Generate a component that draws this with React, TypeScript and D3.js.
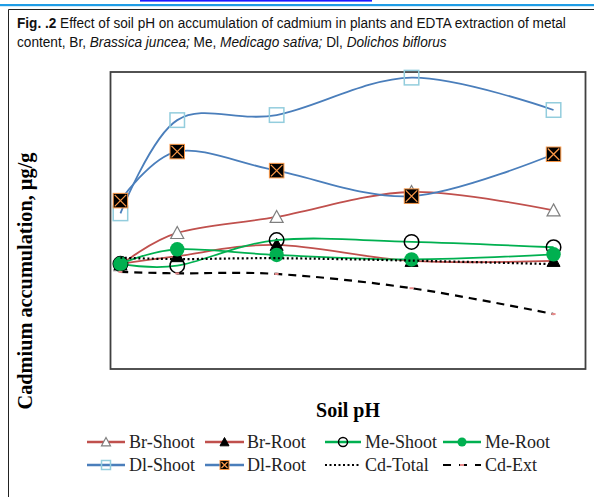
import React, { useLayoutEffect, useRef } from 'react';
import * as d3 from 'd3';

// soil pH at which the samples were taken (no tick labels in the figure)
const soilPH = [4.0, 4.8, 6.2, 8.1, 10.1];

const brShoot = [35.0, 45.8, 51.2, 59.6, 53.4];
const brRoot = [35.4, 38.0, 41.8, 36.4, 36.4];
const meShoot = [35.4, 34.8, 43.4, 42.8, 41.0];
const meRoot = [35.4, 40.3, 38.4, 36.9, 38.6];
const dlShoot = [52.4, 83.8, 85.5, 98.1, 87.2];
const dlRoot = [56.7, 73.2, 66.8, 58.2, 72.3];
const cdTotal = [37.5, 37.0, 37.3, 36.5, 35.3];
const cdExt = [32.7, 32.2, 32.0, 27.2, 18.5];

const legendNames = ['Br-Shoot', 'Br-Root', 'Me-Shoot', 'Me-Root', 'Dl-Shoot', 'Dl-Root', 'Cd-Total', 'Cd-Ext'];

const RED = '#c0504d';
const BLUE = '#4a7ebb';
const GREEN = '#00b050';

type MarkerKind = 'triOpen' | 'triFill' | 'circOpen' | 'circFill' | 'sqOpen' | 'sqCross' | 'dash' | 'none';

const series = [
  { name: legendNames[0], values: brShoot, color: RED, marker: 'triOpen' as MarkerKind, dash: null },
  { name: legendNames[1], values: brRoot, color: RED, marker: 'triFill' as MarkerKind, dash: null },
  { name: legendNames[2], values: meShoot, color: GREEN, marker: 'circOpen' as MarkerKind, dash: null },
  { name: legendNames[3], values: meRoot, color: GREEN, marker: 'circFill' as MarkerKind, dash: null },
  { name: legendNames[4], values: dlShoot, color: BLUE, marker: 'sqOpen' as MarkerKind, dash: null },
  { name: legendNames[5], values: dlRoot, color: BLUE, marker: 'sqCross' as MarkerKind, dash: null },
  { name: legendNames[6], values: cdTotal, color: '#000', marker: 'none' as MarkerKind, dash: '2,2.5' },
  { name: legendNames[7], values: cdExt, color: '#000', marker: 'dash' as MarkerKind, dash: '8,6' },
];

const plot = { left: 110.5, top: 72, right: 585.5, bottom: 369 };

const x = d3.scaleLinear().domain([3.86, 10.55]).range([plot.left, plot.right]);
const y = d3.scaleLinear().domain([0, 100]).range([plot.bottom, plot.top]);

const line = d3
  .line<[number, number]>()
  .x((d) => x(d[0]))
  .y((d) => y(d[1]))
  .curve(d3.curveCardinal.tension(0));

function Marker({ kind, cx, cy, s }: { kind: MarkerKind; cx: number; cy: number; s: number }) {
  const h = s / 2;
  if (kind === 'triOpen' || kind === 'triFill') {
    const pts = `${cx},${cy - h} ${cx + h},${cy + h * 0.85} ${cx - h},${cy + h * 0.85}`;
    return kind === 'triOpen' ? (
      <polygon points={pts} fill="#fff" stroke="#7f7f7f" strokeWidth={1.2} />
    ) : (
      <polygon points={pts} fill="#000" stroke="#000" strokeWidth={1} />
    );
  }
  if (kind === 'circOpen') return <circle cx={cx} cy={cy} r={h} fill="none" stroke="#000" strokeWidth={1.5} />;
  if (kind === 'circFill') return <circle cx={cx} cy={cy} r={h} fill={GREEN} />;
  if (kind === 'sqOpen')
    return <rect x={cx - h} y={cy - h} width={s} height={s} fill="none" stroke="#93cddd" strokeWidth={1.5} />;
  if (kind === 'sqCross')
    return (
      <g>
        <rect x={cx - h} y={cy - h} width={s} height={s} fill="#000" stroke="#f79646" strokeWidth={1} />
        <path
          d={`M${cx - h + 1.5},${cy - h + 1.5}L${cx + h - 1.5},${cy + h - 1.5}M${cx + h - 1.5},${cy - h + 1.5}L${cx - h + 1.5},${cy + h - 1.5}`}
          stroke="#f79646"
          strokeWidth={1.3}
        />
      </g>
    );
  if (kind === 'dash') return <rect x={cx - 2} y={cy - 1} width={4} height={2} fill="#e88b8b" />;
  return null;
}

const legendCols = [
  { x0: 87, x1: 125, tx: 129 },
  { x0: 205, x1: 244, tx: 247 },
  { x0: 325, x1: 361, tx: 365 },
  { x0: 443, x1: 481, tx: 485 },
];
const legendRows = [442, 465];

const serif = '"Times New Roman", "Liberation Serif", serif';
const sans = '"Liberation Sans", Arial, sans-serif';

export default function App() {
  const cap1 = useRef<SVGGElement>(null);
  const cap2 = useRef<SVGGElement>(null);

  // squeeze the caption lines horizontally, like the narrow font of the original
  useLayoutEffect(() => {
    [
      [cap1.current, 549],
      [cap2.current, 430],
    ].forEach(([g, target]) => {
      if (!g) return;
      const w = (g as SVGGElement).getBBox().width;
      if (w > 0) d3.select(g as SVGGElement).attr('transform', `translate(17,0) scale(${(target as number) / w},1)`);
    });
  }, []);

  return (
    <svg width={594} height={497} style={{ position: 'absolute', left: 0, top: 0, background: '#fff' }}>
      <rect x={0} y={0} width={594} height={497} fill="#fff" />
      {/* page decorations */}
      <rect x={140} y={0} width={232} height={1.6} fill="#1a1aff" />
      <rect x={0} y={4} width={594} height={2.2} fill="#1f9de6" />
      <path d="M8.5,497V9.5H594" fill="none" stroke="#222" strokeWidth={1} />

      {/* caption */}
      <g ref={cap1} transform="translate(17,0)">
        <text x={0} y={28} fontFamily={sans} fontSize={14} fill="#111">
          <tspan fontWeight="bold">Fig. .2</tspan> Effect of soil pH on accumulation of cadmium in plants and EDTA extraction of metal
        </text>
      </g>
      <g ref={cap2} transform="translate(17,0)">
        <text x={0} y={47} fontFamily={sans} fontSize={14} fill="#111">
          content, Br, <tspan fontStyle="italic">Brassica juncea;</tspan> Me, <tspan fontStyle="italic">Medicago sativa;</tspan> Dl,{' '}
          <tspan fontStyle="italic">Dolichos biflorus</tspan>
        </text>
      </g>

      {/* plot frame */}
      <rect
        x={plot.left}
        y={plot.top}
        width={plot.right - plot.left}
        height={plot.bottom - plot.top}
        fill="#fff"
        stroke="#404040"
        strokeWidth={1.8}
      />

      {series.map((s) => (
        <g key={s.name}>
          <path
            d={line(soilPH.map((p, i) => [p, s.values[i]] as [number, number])) || ''}
            fill="none"
            stroke={s.color}
            strokeWidth={s.dash ? 2.2 : 1.8}
            strokeDasharray={s.dash || undefined}
          />
          {soilPH.map((p, i) => (
            <Marker key={i} kind={s.marker} cx={x(p)} cy={y(s.values[i])} s={s.marker.startsWith('tri') ? 13 : 14.5} />
          ))}
        </g>
      ))}

      {/* axis titles */}
      <text
        transform="translate(32,281) rotate(-90)"
        textAnchor="middle"
        fontFamily={serif}
        fontWeight="bold"
        fontSize={20}
        fill="#000"
        textLength={257}
        lengthAdjust="spacingAndGlyphs"
      >
        Cadmium accumulation, µg/g
      </text>
      <text x={348} y={417} textAnchor="middle" fontFamily={serif} fontWeight="bold" fontSize={20} fill="#000">
        Soil pH
      </text>

      {/* legend */}
      {series.map((s, i) => {
        const col = legendCols[i % 4];
        const cy = legendRows[Math.floor(i / 4)];
        const mid = (col.x0 + col.x1) / 2;
        return (
          <g key={'lg' + s.name}>
            <line
              x1={col.x0}
              x2={col.x1}
              y1={cy}
              y2={cy}
              stroke={s.color}
              strokeWidth={s.dash ? 2.2 : 2.4}
              strokeDasharray={s.dash === '8,6' ? '8,8' : s.dash || undefined}
            />
            <Marker kind={s.marker} cx={mid} cy={cy} s={s.marker === 'dash' ? 4 : 9} />
            <text x={col.tx} y={cy + 6} fontFamily={serif} fontSize={18} fill="#222">
              {s.name}
            </text>
          </g>
        );
      })}
    </svg>
  );
}
